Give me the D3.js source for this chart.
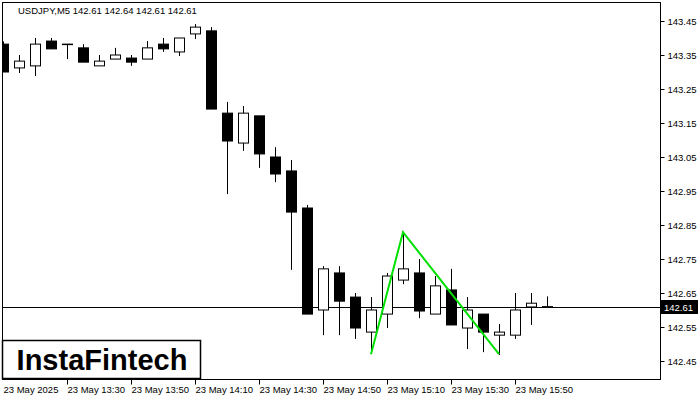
<!DOCTYPE html><html><head><meta charset="utf-8"><script src="https://cdn.jsdelivr.net/npm/d3@7"></script>
<style>body{margin:0;background:#fff}text{font-family:"Liberation Sans",sans-serif}</style></head><body><svg id="c" width="700" height="400"></svg>
<script>
const opens=[143.382,143.312,143.318,143.391,143.382,143.371,143.318,143.338,143.341,143.338,143.382,143.359,143.412,143.421,143.179,143.091,143.171,143.05,143.009,142.90,142.60,142.709,142.638,142.535,142.588,142.688,142.709,142.588,142.659,142.547,142.588,142.526,142.526,142.609,142.61];
const highs=[143.39,143.35,143.40,143.40,143.382,143.382,143.35,143.371,143.35,143.391,143.40,143.40,143.441,143.432,143.212,143.20,143.171,143.079,143.041,142.909,142.729,142.729,142.65,142.638,142.709,142.83,142.75,142.70,142.721,142.638,142.588,142.559,142.65,142.65,142.64];
const lows=[143.30,143.297,143.288,143.368,143.338,143.329,143.318,143.338,143.318,143.338,143.359,143.347,143.397,143.191,142.941,143.068,143.018,142.976,142.718,142.588,142.526,142.526,142.515,142.474,142.547,142.676,142.576,142.588,142.556,142.485,142.476,142.468,142.515,142.556,142.61];
const closes=[143.30,143.332,143.382,143.368,143.382,143.329,143.332,143.35,143.329,143.371,143.368,143.40,143.432,143.191,143.097,143.179,143.059,143.0,142.888,142.588,142.721,142.626,142.547,142.60,142.70,142.721,142.597,142.671,142.556,142.60,142.535,142.535,142.60,142.62,142.61];
const priceTicks=[143.45,143.35,143.25,143.15,143.05,142.95,142.85,142.75,142.65,142.55,142.45];
const timeLabels=["23 May 2025","23 May 13:30","23 May 13:50","23 May 14:10","23 May 14:30","23 May 14:50","23 May 15:10","23 May 15:30","23 May 15:50"];
const timeIdx=[0,4,8,12,16,20,24,28,32];
const patternIdx=[23,25,31];
const patternVals=[142.47,142.829,142.47];
const current=142.61;

const svg=d3.select("#c");
const L=2,R=660,T=2,B=379;
const x=d3.scaleLinear().domain([0,1]).range([3,19]);
const y=d3.scaleLinear().domain([142.45,143.45]).range([361,21]);
svg.append("rect").attr("x",L+0.5).attr("y",T+0.5).attr("width",R-L).attr("height",B-T).attr("fill","none").attr("stroke","#000");
const ya=svg.append("g").attr("transform",`translate(${R+0.5},0)`).call(d3.axisRight(y).tickValues(priceTicks).tickSize(4).tickFormat(d3.format(".2f")));
ya.select(".domain").remove();
ya.selectAll("text").attr("font-size",9.5).attr("font-family","Liberation Sans").attr("fill","#000");
const xa=svg.append("g").attr("transform",`translate(0,${B+0.5})`).call(d3.axisBottom(x).tickValues(timeIdx).tickSize(5).tickFormat((d,i)=>timeLabels[i]));
xa.select(".domain").remove();
xa.selectAll("text").attr("font-size",9.5).attr("font-family","Liberation Sans").attr("fill","#000").attr("text-anchor","start").attr("x",0).attr("dy","0.55em");
xa.selectAll(".tick").filter(d=>d===0).select("line").remove();
svg.append("clipPath").attr("id","cp").append("rect").attr("x",L+1).attr("y",T+1).attr("width",R-L-1).attr("height",B-T-1);
const g=svg.append("g").attr("clip-path","url(#cp)");
g.append("line").attr("x1",L).attr("x2",R).attr("y1",Math.round(y(current))+0.5).attr("y2",Math.round(y(current))+0.5).attr("stroke","#000");
const idx=d3.range(opens.length);
g.selectAll(".w").data(idx).join("line").attr("x1",i=>Math.round(x(i))+0.5).attr("x2",i=>Math.round(x(i))+0.5)
 .attr("y1",i=>y(highs[i])).attr("y2",i=>y(lows[i])).attr("stroke","#000");
g.selectAll(".b").data(idx).join("rect").attr("x",i=>Math.round(x(i))-4.5).attr("width",10)
 .attr("y",i=>y(Math.max(opens[i],closes[i]))).attr("height",i=>Math.max(0.5,Math.abs(y(opens[i])-y(closes[i]))))
 .attr("fill",i=>closes[i]<opens[i]?"#000":"#fff").attr("stroke","#000");
g.append("path").attr("d",d3.line().x((d,k)=>x(patternIdx[k])).y(d=>y(d))(patternVals)).attr("fill","none").attr("stroke","#00e000").attr("stroke-width",2);
const cy=Math.round(y(current));
svg.append("rect").attr("x",R).attr("y",cy-7).attr("width",38).attr("height",14).attr("fill","#000");
svg.append("text").attr("x",R+4).attr("y",cy+3.5).attr("font-size",9.5).attr("fill","#fff").text("142.61");
svg.append("text").attr("x",18).attr("y",14).attr("font-size",9.5).text("USDJPY,M5  142.61 142.64 142.61 142.61");
svg.append("rect").attr("x",2.5).attr("y",340.5).attr("width",198).attr("height",38).attr("fill","#fff").attr("stroke","#000").attr("stroke-width",1.5);
svg.append("text").attr("x",102).attr("y",370).attr("text-anchor","middle").attr("font-size",29).attr("font-weight",600).attr("font-family","Open Sans").text("InstaFintech");
</script></body></html>
